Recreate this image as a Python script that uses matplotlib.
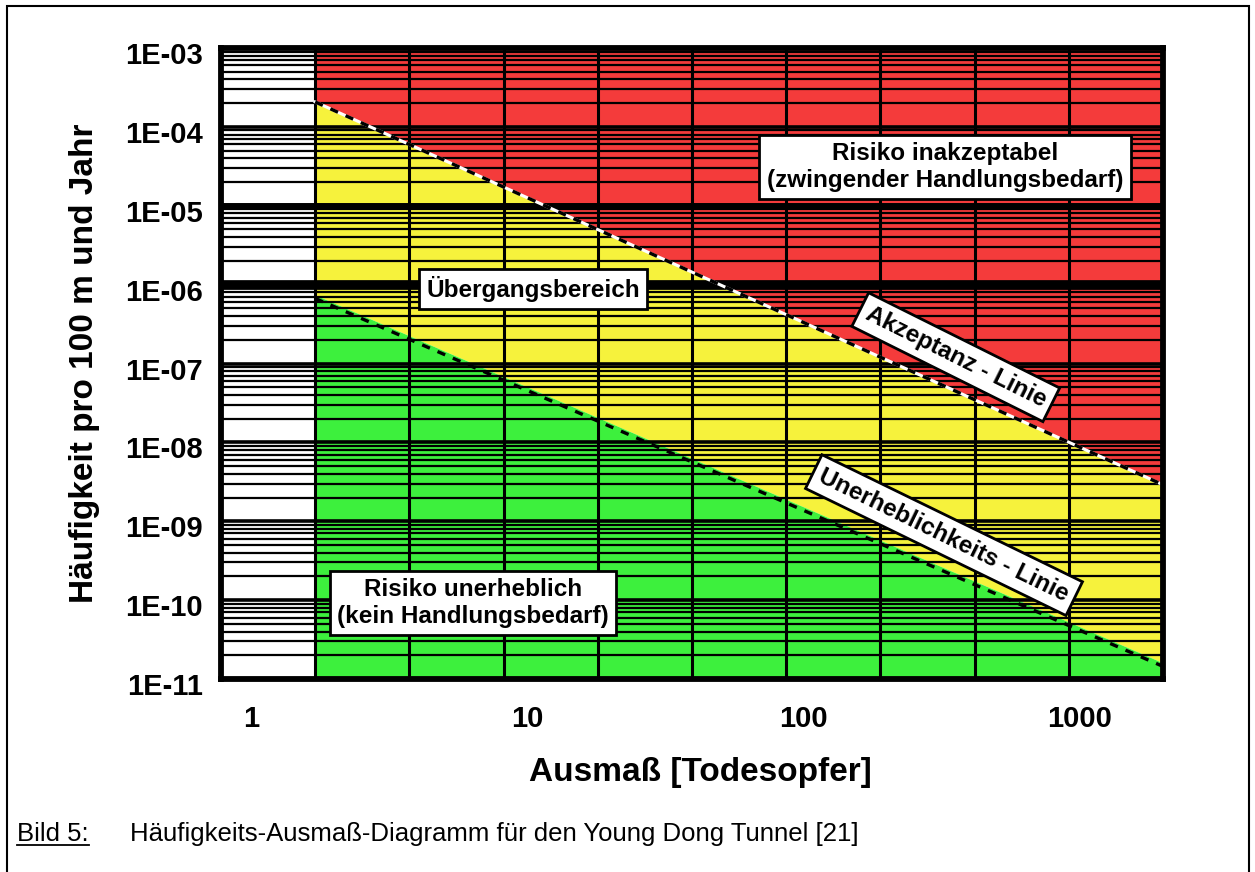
"""Haeufigkeits-Ausmass-Diagramm (F-N diagram), Young Dong Tunnel"""
import numpy as np
import matplotlib
matplotlib.use("Agg")
import matplotlib.pyplot as plt
import matplotlib.transforms as mtransforms
from matplotlib.patches import Rectangle
from matplotlib.lines import Line2D
from matplotlib.ticker import LogLocator, NullFormatter, FixedLocator

plt.rcParams["font.family"] = ["Liberation Sans", "DejaVu Sans"]

# axis ranges (Ausmass N, Haeufigkeit F)
n_range = [0.78, 2000]
f_range = [1e-11, 1e-3]

# the two criterion lines
n_line = [1.71, 2000]
f_akzeptanz = [2.07e-4, 2.9e-9]
f_unerheblich = [7.4e-7, 1.6e-11]

x_ticks = [1, 10, 100, 1000]
x_tick_labels = ["1", "10", "100", "1000"]
y_ticks = [1e-3, 1e-4, 1e-5, 1e-6, 1e-7, 1e-8, 1e-9, 1e-10, 1e-11]
y_tick_labels = ["1E-03", "1E-04", "1E-05", "1E-06", "1E-07",
                 "1E-08", "1E-09", "1E-10", "1E-11"]
heavy_decades = [1e-5, 1e-6]

red = "#F43B3B"
yellow = "#F6F23C"
green = "#3DF03D"

fig = plt.figure(figsize=(12.55, 8.72), dpi=100)
ax = fig.add_axes([221 / 1255, 1 - 679 / 872, 942 / 1255, 631 / 872])
ax.set_xscale("log")
ax.set_yscale("log")
ax.set_xlim(n_range)
ax.set_ylim(f_range)

# risk zones
ax.fill_between(n_line, f_akzeptanz, f_range[1], color=red, lw=0, zorder=0)
ax.fill_between(n_line, f_unerheblich, f_akzeptanz, color=yellow, lw=0, zorder=0)
ax.fill_between(n_line, f_range[0], f_unerheblich, color=green, lw=0, zorder=0)

# grid
ax.yaxis.set_major_locator(FixedLocator(y_ticks))
ax.yaxis.set_minor_locator(LogLocator(base=10, subs=np.arange(2, 10), numticks=100))
ax.yaxis.set_minor_formatter(NullFormatter())
ax.set_yticklabels(y_tick_labels)
ax.set_xticks(x_ticks)
ax.set_xticklabels(x_tick_labels)
ax.xaxis.set_minor_locator(FixedLocator([]))
ax.grid(which="major", axis="y", color="black", lw=2.6, zorder=2)
ax.grid(which="minor", axis="y", color="black", lw=1.6, zorder=2)
for f in heavy_decades:
    ax.axhline(f, color="black", lw=5 if f == 1e-5 else 7, zorder=2)
col_edges = np.geomspace(n_range[0], n_range[1], 11)
ax.vlines(col_edges[1:-1], f_range[0], f_range[1], color="black", lw=2.2, zorder=2)

# criterion lines
ax.plot(n_line, f_akzeptanz, color="white", lw=2.2, zorder=3)
ax.plot(n_line, f_akzeptanz, color="black", lw=2.4, ls=(0, (2.5, 2.5)), zorder=3.1)
shift = ax.transData + mtransforms.ScaledTranslation(0, -0.035, fig.dpi_scale_trans)
ax.plot(n_line, f_unerheblich, color="black", lw=2.4, ls=(0, (2.5, 2.5)),
        zorder=3.1, transform=shift)

for s in ax.spines.values():
    s.set_linewidth(4.2)
    s.set_zorder(4)
ax.tick_params(which="both", length=0)
ax.tick_params(axis="x", pad=19, labelsize=21)
ax.tick_params(axis="y", pad=13, labelsize=21)
for lab in ax.get_xticklabels() + ax.get_yticklabels():
    lab.set_fontweight("bold")
down = mtransforms.ScaledTranslation(0, -0.05, fig.dpi_scale_trans)
for lab in ax.get_yticklabels():
    lab.set_transform(lab.get_transform() + down)

ax.set_xlabel("Ausmaß [Todesopfer]", fontsize=24, fontweight="bold")
ax.xaxis.set_label_coords(0.5085, -0.124)
ax.set_ylabel("Häufigkeit pro 100 m und Jahr", fontsize=24, fontweight="bold")
ax.yaxis.set_label_coords(-0.128, 0.5)

box = dict(boxstyle="square,pad=0.3", fc="white", ec="black", lw=2)
kw = dict(transform=ax.transAxes, ha="center", va="center", fontsize=17.5,
          fontweight="bold", bbox=box, zorder=6, linespacing=1.2)
ax.text(0.7686, 0.8114, "Risiko inakzeptabel\n(zwingender Handlungsbedarf)", **kw)
ax.text(0.3312, 0.618, "Übergangsbereich", **kw)
ax.text(0.2675, 0.1204, "Risiko unerheblich\n(kein Handlungsbedarf)", **kw)
ax.text(0.780, 0.510, "Akzeptanz - Linie", rotation=-26.5, rotation_mode="anchor", **kw)
ax.text(0.7675, 0.228, "Unerheblichkeits - Linie", rotation=-26, rotation_mode="anchor", **kw)

# caption and page frame
base_y = 1 - 841 / 872
t = fig.text(17 / 1255, base_y, "Bild 5:", fontsize=18.5, va="baseline")
fig.text(130 / 1255, base_y, "Häufigkeits-Ausmaß-Diagramm für den Young Dong Tunnel [21]",
         fontsize=18.5, va="baseline")
fig.canvas.draw()
bb = t.get_window_extent(fig.canvas.get_renderer())
W, H = fig.bbox.width, fig.bbox.height
fig.add_artist(Line2D([bb.x0 / W, bb.x1 / W], [base_y - 4 / H, base_y - 4 / H],
                      transform=fig.transFigure, color="black", lw=1.3))
fig.add_artist(Rectangle((7 / 1255, -0.1), 1242 / 1255, 1.1 - 6 / 872,
                         transform=fig.transFigure, fill=False, ec="black", lw=1.5))

fig.savefig("out.png", dpi=100)
